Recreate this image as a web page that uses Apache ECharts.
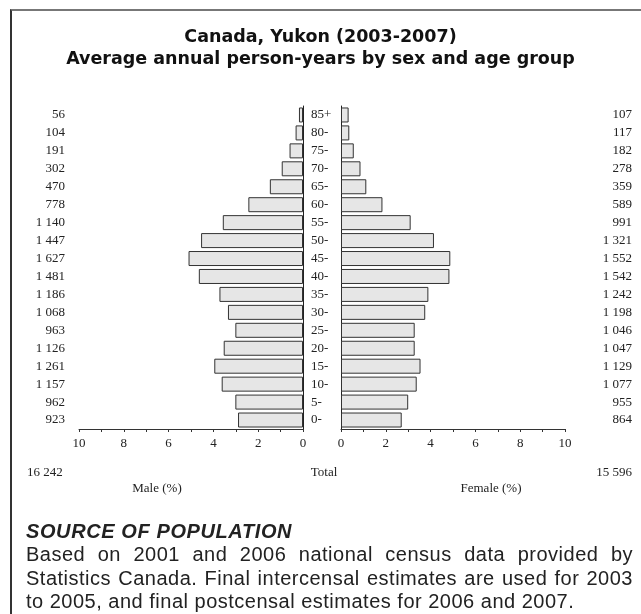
<!DOCTYPE html>
<html>
<head>
<meta charset="utf-8">
<script src="https://cdn.jsdelivr.net/npm/echarts@6/dist/echarts.min.js"></script>
<style>
  body { margin: 0; background: #fff; }
  .page { position: relative; width: 641px; height: 614px; overflow: hidden; }
  .frame { position: absolute; left: 10px; top: 9px; width: 700px; height: 700px;
           border-top: 2px solid #777; border-left: 2px solid #333; }
  #main { position: absolute; left: 0; top: 0; width: 641px; height: 520px; }
  .source { position: absolute; left: 26px; top: 519px; width: 607px;
            font-family: "Liberation Sans", Arial, sans-serif; color: #222; }
  .source h4 { margin: 0; font-size: 20px; font-weight: bold; font-style: italic;
               line-height: 24px; letter-spacing: 0.6px; }
  .source p { margin: 0; font-size: 20px; line-height: 23.5px; text-align: justify; letter-spacing: 0.5px; }
</style>
</head>
<body>
<div class="page">
  <div class="frame"></div>
  <div id="main"></div>
  <div class="source">
    <h4>SOURCE OF POPULATION</h4>
    <p>Based on 2001 and 2006 national census data provided by Statistics Canada. Final intercensal estimates are used for 2003 to 2005, and final postcensal estimates for 2006 and 2007.</p>
  </div>
</div>
<script>
    // 年龄组（从上到下）
    var ageGroups = ['85+', '80-', '75-', '70-', '65-', '60-', '55-', '50-', '45-', '40-',
                     '35-', '30-', '25-', '20-', '15-', '10-', '5-', '0-']
    // 人年数
    var maleCounts = [56, 104, 191, 302, 470, 778, 1140, 1447, 1627, 1481,
                      1186, 1068, 963, 1126, 1261, 1157, 962, 923]
    var femaleCounts = [107, 117, 182, 278, 359, 589, 991, 1321, 1552, 1542,
                        1242, 1198, 1046, 1047, 1129, 1077, 955, 864]
    // 占总数百分比
    var malePct = [0.18, 0.33, 0.60, 0.95, 1.48, 2.44, 3.58, 4.55, 5.11, 4.65,
                   3.73, 3.35, 3.02, 3.54, 3.96, 3.63, 3.02, 2.90]
    var femalePct = [0.34, 0.37, 0.57, 0.87, 1.13, 1.85, 3.11, 4.15, 4.88, 4.84,
                     3.90, 3.76, 3.29, 3.29, 3.55, 3.38, 3.00, 2.71]
    var maleTotal = 16242
    var femaleTotal = 15596

    function fmt(n) {
        return String(n).replace(/\B(?=(\d{3})+(?!\d))/g, ' ')
    }

    var serif = '"Liberation Serif", "Times New Roman", serif'
    var labelStyle = { fontFamily: serif, fontSize: 13, color: '#222' }

    function valueAxis(grid, inverse) {
        return {
            gridIndex: grid,
            type: 'value',
            min: 0,
            max: 10,
            interval: 2,
            inverse: inverse,
            axisLine: { show: true, onZero: false, lineStyle: { color: '#333', width: 1 } },
            axisTick: { show: true, length: 3, lineStyle: { color: '#333' } },
            minorTick: { show: true, splitNumber: 2, length: 3, lineStyle: { color: '#333' } },
            splitLine: { show: false },
            axisLabel: Object.assign({ margin: 8 }, labelStyle)
        }
    }

    var chart = echarts.init(document.getElementById('main'))
    chart.setOption({
        animation: false,
        title: {
            text: 'Canada, Yukon (2003-2007)\nAverage annual person-years by sex and age group',
            left: 'center',
            top: 21,
            textStyle: { fontFamily: '"DejaVu Sans", sans-serif', fontSize: 17.5, fontWeight: 'bold', color: '#111', lineHeight: 22 }
        },
        grid: [
            { left: 79, right: 338, top: 106, bottom: 91 },
            { left: 341, right: 76, top: 106, bottom: 91 }
        ],
        xAxis: [valueAxis(0, true), valueAxis(1, false)],
        yAxis: [
            {
                gridIndex: 0, type: 'category', data: ageGroups, inverse: true, position: 'right',
                axisLine: { show: true, onZero: false, lineStyle: { color: '#222', width: 1 } },
                axisTick: { show: false }, axisLabel: { show: false }
            },
            {
                gridIndex: 0, type: 'category', data: ageGroups, inverse: true, position: 'left',
                axisLine: { show: false, onZero: false }, axisTick: { show: false },
                axisLabel: Object.assign({
                    margin: 14,
                    formatter: function (v, i) { return fmt(maleCounts[i]) }
                }, labelStyle)
            },
            {
                gridIndex: 1, type: 'category', data: ageGroups, inverse: true, position: 'left',
                axisLine: { show: true, onZero: false, lineStyle: { color: '#222', width: 1 } },
                axisTick: { show: false },
                axisLabel: Object.assign({ margin: 30, align: 'left' }, labelStyle)
            },
            {
                gridIndex: 1, type: 'category', data: ageGroups, inverse: true, position: 'right',
                axisLine: { show: false, onZero: false }, axisTick: { show: false },
                axisLabel: Object.assign({
                    margin: 67, align: 'right',
                    formatter: function (v, i) { return fmt(femaleCounts[i]) }
                }, labelStyle)
            }
        ],
        series: [
            {
                name: 'Male', type: 'bar', xAxisIndex: 0, yAxisIndex: 0,
                data: malePct, barWidth: 15,
                itemStyle: { color: '#e6e6e6', borderColor: '#333', borderWidth: 1 }
            },
            {
                name: 'Female', type: 'bar', xAxisIndex: 1, yAxisIndex: 2,
                data: femalePct, barWidth: 15,
                itemStyle: { color: '#e6e6e6', borderColor: '#333', borderWidth: 1 }
            }
        ],
        graphic: [
            { type: 'text', x: 27, y: 473, style: { text: fmt(maleTotal), font: '13px ' + serif, fill: '#222', textAlign: 'left', textVerticalAlign: 'middle' } },
            { type: 'text', x: 324, y: 473, style: { text: 'Total', font: '13px ' + serif, fill: '#222', textAlign: 'center', textVerticalAlign: 'middle' } },
            { type: 'text', x: 632, y: 473, style: { text: fmt(femaleTotal), font: '13px ' + serif, fill: '#222', textAlign: 'right', textVerticalAlign: 'middle' } },
            { type: 'text', x: 157, y: 489, style: { text: 'Male (%)', font: '13px ' + serif, fill: '#222', textAlign: 'center', textVerticalAlign: 'middle' } },
            { type: 'text', x: 491, y: 489, style: { text: 'Female (%)', font: '13px ' + serif, fill: '#222', textAlign: 'center', textVerticalAlign: 'middle' } }
        ]
    })
</script>
</body>
</html>
